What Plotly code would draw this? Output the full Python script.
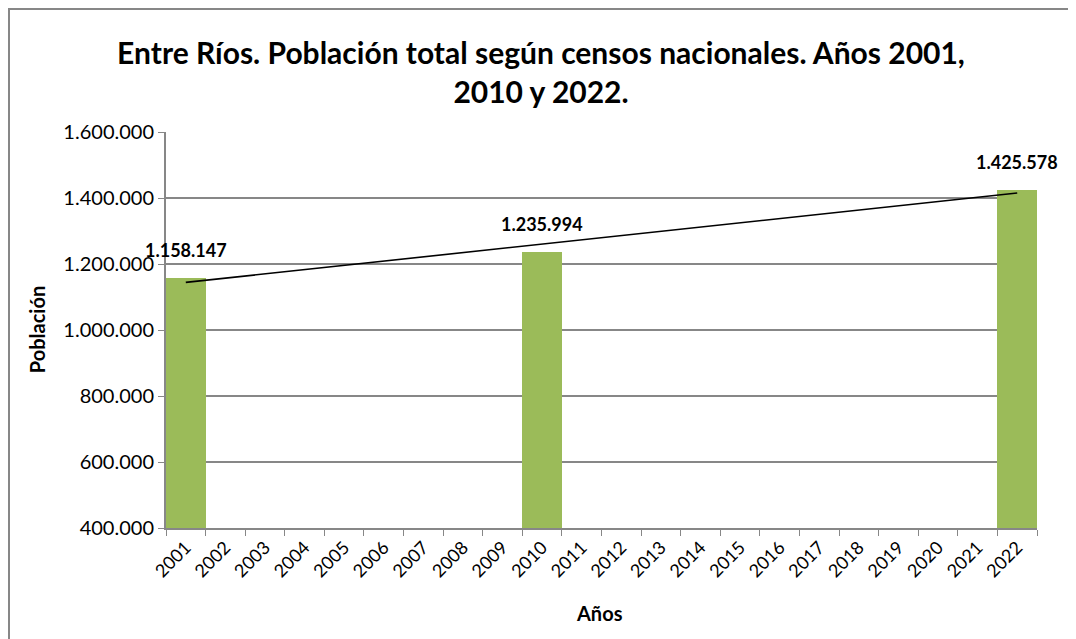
import numpy as np
import plotly.graph_objects as go

# datos: censos nacionales de Entre Ríos
anios = [str(a) for a in range(2001, 2023)]
anios_censo = ["2001", "2010", "2022"]
poblacion = [1158147, 1235994, 1425578]

def fmt_miles(v):
    return f"{v:,}".replace(",", ".")

# línea de tendencia lineal (como la de Excel)
x_num = np.array([int(a) for a in anios_censo])
pend, orig = np.polyfit(x_num, poblacion, 1)
tend_x = [anios_censo[0], anios_censo[-1]]
tend_y = [pend * x_num[0] + orig, pend * x_num[-1] + orig]

verde = "#9BBB59"
gris = "#878787"
fuente = "Lato"

fig = go.Figure()

fig.add_trace(go.Bar(
    x=anios_censo,
    y=poblacion,
    marker=dict(color=verde, line=dict(width=0)),
    showlegend=False,
    hoverinfo="x+y",
))

fig.add_trace(go.Scatter(
    x=tend_x,
    y=tend_y,
    mode="lines",
    line=dict(color="black", width=1.6),
    showlegend=False,
    hoverinfo="skip",
))

# etiquetas de datos (en eje de categorías, x va como índice)
for a, v in zip(anios_censo, poblacion):
    fig.add_annotation(
        x=anios.index(a), y=v, text=f"<b>{fmt_miles(v)}</b>",
        showarrow=False, yanchor="bottom", yshift=15,
        font=dict(family=fuente, size=18, color="black"),
    )

# títulos de ejes
fig.add_annotation(
    x=-0.164, y=0.5, xref="paper", yref="paper", text="<b>Población</b>",
    textangle=-90, showarrow=False,
    font=dict(family=fuente, size=20, color="black"),
)
fig.add_annotation(
    x=0.498, y=-0.215, xref="paper", yref="paper", text="<b>Años</b>",
    showarrow=False, yanchor="middle",
    font=dict(family=fuente, size=20, color="black"),
)

# borde del área del gráfico
ml, mt, pw, ph = 158, 124, 871, 396
fig.add_shape(
    type="rect", xref="paper", yref="paper",
    x0=(1 - ml) / pw, x1=(1075 - ml) / pw,
    y0=(ph + mt - 638) / ph, y1=(ph + mt - 1) / ph,
    line=dict(color=gris, width=2),
)

fig.update_layout(
    width=1076,
    height=639,
    separators=",.",
    paper_bgcolor="white",
    plot_bgcolor="white",
    font=dict(family=fuente, size=18, color="black"),
    margin=dict(l=ml, r=1076 - ml - pw, t=mt, b=639 - mt - ph),
    bargap=0,
    title=dict(
        text="<b>Entre Ríos. Población total según censos nacionales. Años 2001,<br>2010 y 2022.</b>",
        x=533 / 1076, xanchor="center",
        y=1 - 56 / 639, yanchor="top",
        font=dict(family=fuente, size=30, color="black"),
    ),
    xaxis=dict(
        type="category",
        categoryorder="array",
        categoryarray=anios,
        range=[-0.5, len(anios) - 0.5],
        tickmode="array",
        tickvals=anios,
        ticktext=anios,
        tickangle=-45,
        tickson="boundaries",
        ticks="outside",
        ticklen=6,
        tickcolor=gris,
        showline=True,
        linecolor=gris,
        linewidth=2,
        showgrid=False,
        tickfont=dict(family=fuente, size=18, color="black"),
    ),
    yaxis=dict(
        range=[400000, 1600000],
        tickvals=[400000, 600000, 800000, 1000000, 1200000, 1400000, 1600000],
        tickformat=",d",
        ticks="outside",
        ticklen=6,
        tickcolor=gris,
        showline=True,
        linecolor=gris,
        linewidth=2,
        showgrid=True,
        gridcolor=gris,
        gridwidth=1.5,
        zeroline=False,
        tickfont=dict(family=fuente, size=20, color="black"),
    ),
)

fig.write_html("out.html")
